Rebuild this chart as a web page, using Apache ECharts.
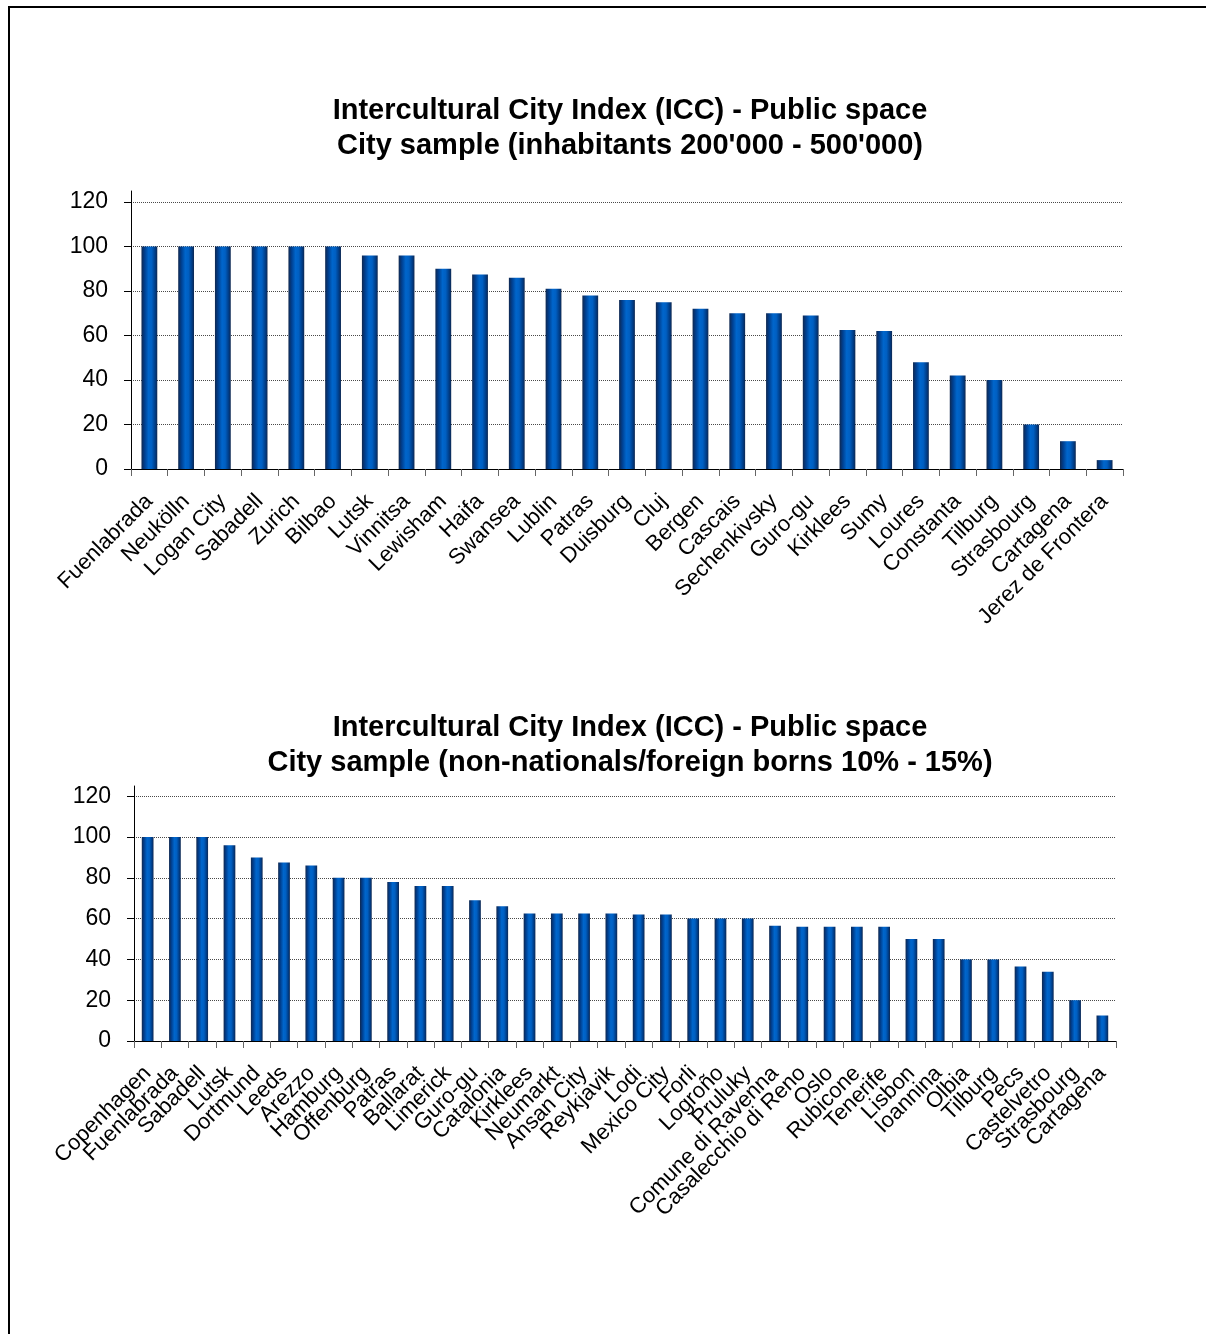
<!DOCTYPE html>
<html>
<head>
<meta charset="utf-8">
<script src="https://cdn.jsdelivr.net/npm/echarts@6/dist/echarts.min.js"></script>
<style>
  html, body { margin: 0; padding: 0; background: #fff; }
  #frame { position: absolute; left: 8px; top: 6px; width: 1198px; height: 1328px;
           border-top: 2px solid #000; border-left: 2px solid #000; }
  #main { position: absolute; left: 0; top: 0; width: 1206px; height: 1334px; }
</style>
</head>
<body>
<div id="frame"></div>
<div id="main"></div>
<script>
// chart 1: inhabitants 200'000 - 500'000
var cities1 = ['Fuenlabrada', 'Neukölln', 'Logan City', 'Sabadell', 'Zurich', 'Bilbao', 'Lutsk',
  'Vinnitsa', 'Lewisham', 'Haifa', 'Swansea', 'Lublin', 'Patras', 'Duisburg', 'Cluj', 'Bergen',
  'Cascais', 'Sechenkivsky', 'Guro-gu', 'Kirklees', 'Sumy', 'Loures', 'Constanta', 'Tilburg',
  'Strasbourg', 'Cartagena', 'Jerez de Frontera'];
var values1 = [100, 100, 100, 100, 100, 100, 96, 96, 90, 87.5, 86, 81, 78, 76, 75, 72, 70, 70, 69,
  62.5, 62, 48, 42, 40, 20, 12.5, 4];

// chart 2: non-nationals/foreign borns 10% - 15%
var cities2 = ['Copenhagen', 'Fuenlabrada', 'Sabadell', 'Lutsk', 'Dortmund', 'Leeds', 'Arezzo',
  'Hamburg', 'Offenburg', 'Patras', 'Ballarat', 'Limerick', 'Guro-gu', 'Catalonia', 'Kirklees',
  'Neumarkt', 'Ansan City', 'Reykjavik', 'Lodi', 'Mexico City', 'Forli', 'Logroño', 'Pruluky',
  'Comune di Ravenna', 'Casalecchio di Reno', 'Oslo', 'Rubicone', 'Tenerife', 'Lisbon', 'Ioannina',
  'Olbia', 'Tilburg', 'Pecs', 'Castelvetro', 'Strasbourg', 'Cartagena'];
var values2 = [100, 100, 100, 96, 90, 87.5, 86, 80, 80, 78, 76, 76, 69, 66, 62.5, 62.5, 62.5, 62.5,
  62, 62, 60, 60, 60, 56.5, 56, 56, 56, 56, 50, 50, 40, 40, 36.5, 34, 20, 12.5];

var yTicks = [0, 20, 40, 60, 80, 100, 120];

var title1 = "Intercultural City Index (ICC) - Public space\nCity sample (inhabitants 200'000 - 500'000)";
var title2 = "Intercultural City Index (ICC) - Public space\nCity sample (non-nationals/foreign borns 10% - 15%)";

var font = "'Liberation Sans', Arial, sans-serif";

var barColor = new echarts.graphic.LinearGradient(0, 0, 1, 0, [
  { offset: 0, color: '#10284f' },
  { offset: 0.2, color: '#003f8f' },
  { offset: 0.45, color: '#0066cc' },
  { offset: 0.65, color: '#005fc2' },
  { offset: 0.88, color: '#003a82' },
  { offset: 1, color: '#10284f' }
]);

// axis line runs a little above the 120 line, like the excel plot area
function yAxis(idx) {
  return {
    type: 'value', gridIndex: idx, min: 0, max: 125, interval: 20,
    axisLine: { show: true, lineStyle: { color: '#000', width: 1 } },
    axisTick: { show: true, length: 7, customValues: yTicks, lineStyle: { color: '#000' } },
    axisLabel: { color: '#000', fontSize: 23, fontFamily: font, margin: 23, customValues: yTicks },
    splitLine: { show: true, lineStyle: { color: '#4a4a4a', type: 'dotted', width: 1 } }
  };
}

function xAxis(idx, cats) {
  return {
    type: 'category', gridIndex: idx, data: cats,
    axisLine: { show: true, lineStyle: { color: '#000', width: 1 } },
    axisTick: { show: true, length: 7, interval: 0, lineStyle: { color: '#666' } },
    axisLabel: { interval: 0, rotate: 45, color: '#000', fontSize: 22, fontFamily: font, margin: 29 }
  };
}

function title(text, top) {
  return {
    text: text, left: 625, top: top, textAlign: 'center',
    textStyle: { fontSize: 29, fontWeight: 'bold', fontFamily: font, color: '#000',
      lineHeight: 35, align: 'center' }
  };
}

var chart = echarts.init(document.getElementById('main'));
var option = {
  backgroundColor: 'transparent',
  animation: false,
  title: [title(title1, 88), title(title2, 705)],
  grid: [
    { left: 131, top: 191, width: 992, height: 278 },
    { left: 134, top: 786, width: 982, height: 255 }
  ],
  xAxis: [xAxis(0, cities1), xAxis(1, cities2)],
  yAxis: [yAxis(0), yAxis(1)],
  series: [{
    type: 'bar', xAxisIndex: 0, yAxisIndex: 0, data: values1,
    barWidth: '43%', itemStyle: { color: barColor }
  }, {
    type: 'bar', xAxisIndex: 1, yAxisIndex: 1, data: values2,
    barWidth: '43%', itemStyle: { color: barColor }
  }]
};
chart.setOption(option);
</script>
</body>
</html>
